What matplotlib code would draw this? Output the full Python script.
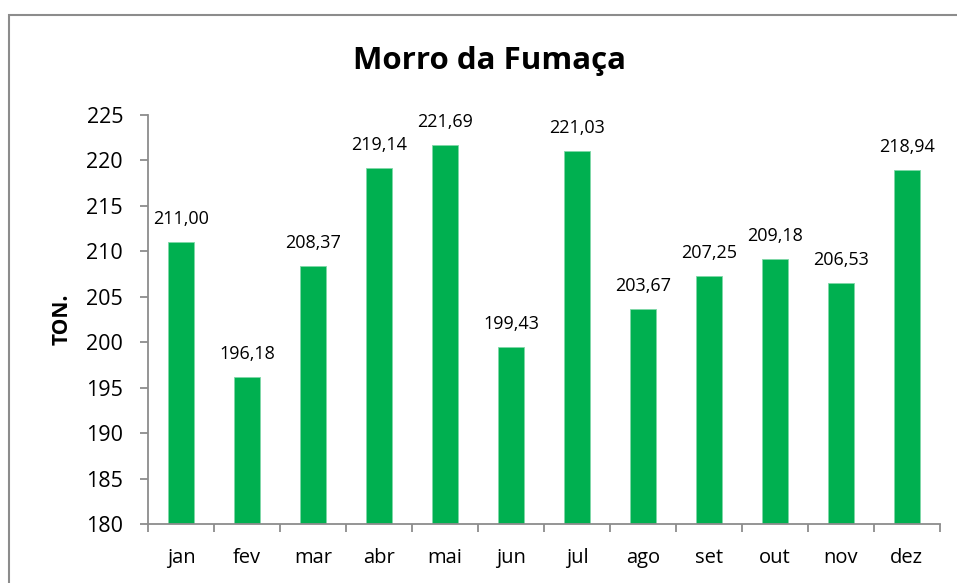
import matplotlib
matplotlib.use('Agg')
import matplotlib.pyplot as plt
import matplotlib.patches as patches
import numpy as np

plt.rcParams['font.family'] = ['Open Sans', 'DejaVu Sans']

# Data
months = ['jan', 'fev', 'mar', 'abr', 'mai', 'jun', 'jul', 'ago', 'set', 'out', 'nov', 'dez']
values = [211.00, 196.18, 208.37, 219.14, 221.69, 199.43, 221.03, 203.67, 207.25, 209.18, 206.53, 218.94]
yticks = [180, 185, 190, 195, 200, 205, 210, 215, 220, 225]

fig = plt.figure(figsize=(9.57, 5.83), dpi=100)
ax = fig.add_axes([0.1547, 0.1012, 0.8273, 0.7015])

# outer chart border (right and bottom edges fall outside the image)
fig.patches.append(patches.Rectangle((9/957, -0.05), 1.1, 1.05 - 15/583, transform=fig.transFigure,
                                     fill=False, edgecolor='#8c8c8c', linewidth=1.5))

x = np.arange(len(months))
bars = ax.bar(x, values, width=0.4, color='#00B050', edgecolor='#7fd8a7', linewidth=0.6)

for b, v in zip(bars, values):
    ax.annotate(f'{v:.2f}'.replace('.', ','), (b.get_x() + b.get_width() / 2, v),
                xytext=(0, 13), textcoords='offset points',
                ha='center', va='baseline', fontsize=13)

ax.set_xlim(-0.5, len(months) - 0.5)
ax.set_ylim(180, 225)
ax.set_yticks(yticks)
ax.set_yticklabels([str(t) for t in yticks], fontsize=15.5)
ax.set_xticks(x)
ax.set_xticklabels(months, fontsize=14.5)
ax.set_xticks(np.arange(-0.5, len(months)), minor=True)
ax.tick_params(axis='x', which='major', length=0, pad=17)
ax.tick_params(axis='x', which='minor', length=6, color='#8c8c8c', width=1.3)
ax.tick_params(axis='y', length=6, color='#8c8c8c', width=1.3, pad=12)

for s in ['top', 'right']:
    ax.spines[s].set_visible(False)
for s in ['left', 'bottom']:
    ax.spines[s].set_color('#8c8c8c')
    ax.spines[s].set_linewidth(1.3)

ax.set_ylabel('TON.', fontsize=15, fontweight='bold', labelpad=10)
fig.text(490/957, 1 - 69/583, 'Morro da Fumaça', fontsize=22.5, fontweight='bold',
         ha='center', va='baseline')

fig.savefig('out.png', dpi=100)
